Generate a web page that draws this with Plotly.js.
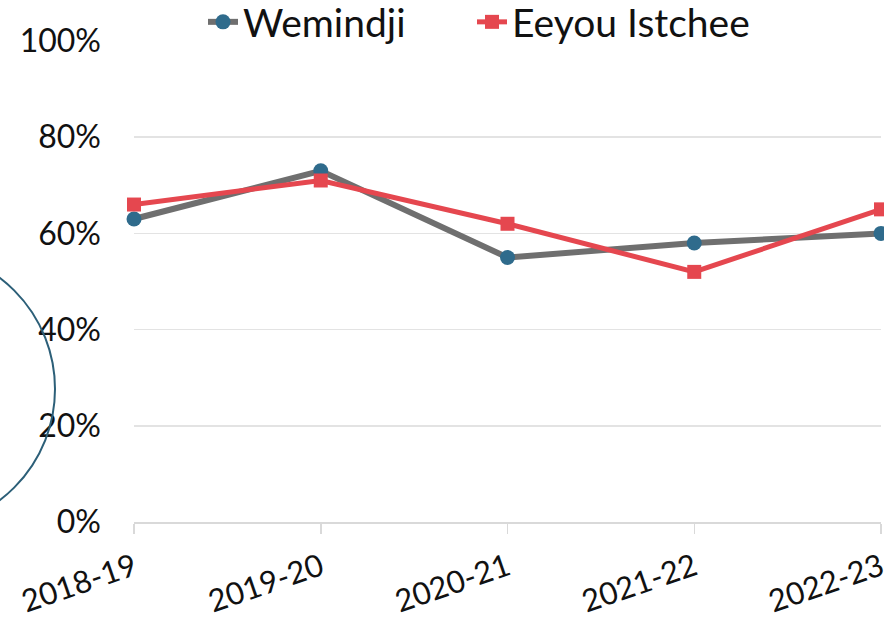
<!DOCTYPE html>
<html>
<head>
<meta charset="utf-8">
<script src="https://cdn.plot.ly/plotly-3.0.1.min.js"></script>
<style>html,body{margin:0;padding:0;background:#fff;}#chart{width:884px;height:618px;}</style>
</head>
<body>
<div id="chart"></div>
<script>
const categories = ["2018-19", "2019-20", "2020-21", "2021-22", "2022-23"];
const wemindji = [0.63, 0.73, 0.55, 0.58, 0.60];
const eeyou = [0.66, 0.71, 0.62, 0.52, 0.65];
const yTicks = [0, 0.2, 0.4, 0.6, 0.8, 1.0];
const yTickText = ["0%", "20%", "40%", "60%", "80%", "100%"];

const W = 884, H = 618;
const m = {l: 134, r: 3, t: 41, b: 96, autoexpand: false};
const pw = W - m.l - m.r, ph = H - m.t - m.b;
const px = v => (v - m.l) / pw;
const py = v => (H - m.b - v) / ph;
const cx = -84.5, cy = 389, cr = 139.5;

const font = "Lato, 'Open Sans', sans-serif";

const traces = [
  {x: categories, y: wemindji, name: "Wemindji", type: "scatter", mode: "lines+markers", legend: "legend",
   line: {color: "#6f6f6f", width: 6}, marker: {color: "#2f6b8c", size: 15, symbol: "circle"}, cliponaxis: false},
  {x: categories, y: eeyou, name: "Eeyou Istchee", type: "scatter", mode: "lines+markers", legend: "legend2",
   line: {color: "#e5474f", width: 5}, marker: {color: "#e5474f", size: 14, symbol: "square"}, cliponaxis: false}
];

const legendBase = {orientation: "h", xanchor: "left", y: py(22), yanchor: "middle",
  font: {family: font, size: 39, color: "#111"}, bgcolor: "rgba(0,0,0,0)"};

const layout = {
  width: W, height: H,
  margin: m,
  paper_bgcolor: "#fff", plot_bgcolor: "#fff",
  font: {family: font, size: 32, color: "#111"},
  showlegend: true,
  legend: Object.assign({}, legendBase, {x: px(203)}),
  legend2: Object.assign({}, legendBase, {x: px(472)}),
  xaxis: {type: "category", range: [0, 4], showgrid: false, showline: true, linecolor: "#d9d9d9", linewidth: 1.5,
          ticks: "outside", ticklen: 10, tickcolor: "#d9d9d9", tickwidth: 1.5, tickangle: -19, ticklabelstandoff: 4,
          tickfont: {family: font, size: 31, color: "#111"}, zeroline: false, fixedrange: true},
  yaxis: {range: [0, 1.0], tickvals: yTicks, ticktext: yTickText, showgrid: true, gridcolor: "#e3e3e3", gridwidth: 1.5,
          showline: false, zeroline: false, ticks: "", ticklabelstandoff: 32,
          tickfont: {family: font, size: 32, color: "#111"}, fixedrange: true},
  shapes: [{type: "circle", xref: "paper", yref: "paper", layer: "above",
            x0: px(cx - cr), x1: px(cx + cr), y0: py(cy + cr), y1: py(cy - cr),
            line: {color: "#2c5f78", width: 2}}]
};

Plotly.newPlot("chart", traces, layout, {displayModeBar: false, staticPlot: true});
</script>
</body>
</html>
